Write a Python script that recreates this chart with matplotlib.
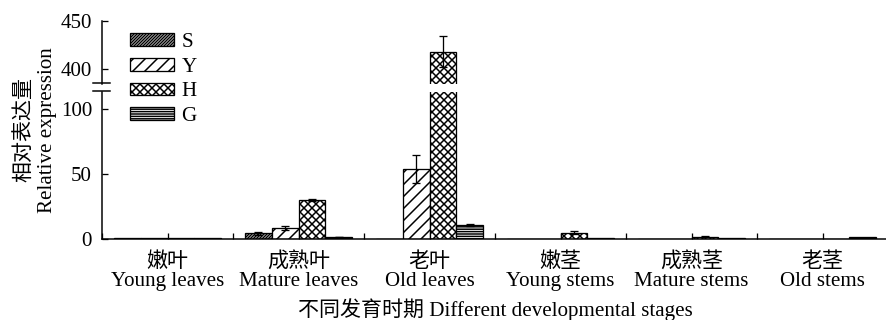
import matplotlib
matplotlib.use("Agg")
import matplotlib.pyplot as plt
import numpy as np
from matplotlib.lines import Line2D
from matplotlib.patches import Patch

plt.rcParams['font.family'] = ['Liberation Serif', 'Noto Sans CJK SC']
plt.rcParams['hatch.linewidth'] = 1.5
plt.rcParams['axes.linewidth'] = 1.5

stages_cn = ['嫩叶', '成熟叶', '老叶', '嫩茎', '成熟茎', '老茎']
stages_en = ['Young leaves', 'Mature leaves', 'Old leaves', 'Young stems', 'Mature stems', 'Old stems']
series = ['S', 'Y', 'H', 'G']

S = [0.8, 4.5, 0.0, 0.0, 0.0, 0.0]
Y = [0.8, 8.5, 53.5, 0.6, 0.4, 0.0]
H = [0.8, 30.0, 418.0, 5.0, 2.0, 0.0]
G = [0.8, 1.8, 11.0, 1.2, 1.3, 1.7]
S_err = [0, 1.0, 0, 0, 0, 0]
Y_err = [0, 1.5, 10.7, 0, 0, 0]
H_err = [0, 0.8, 16.0, 1.0, 0.3, 0]
G_err = [0, 0.3, 1.0, 0, 0, 0]

values = [S, Y, H, G]
errors = [S_err, Y_err, H_err, G_err]
hatches = ['////////', '//', 'xxx', '-----']

fs = 21
W, Hpx = 886, 320
fig = plt.figure(figsize=(W / 72, Hpx / 72), dpi=72)

left = 102 / W
width = (888 - 102) / W
ax_lo = fig.add_axes([left, (Hpx - 239.3) / Hpx, width, (239.3 - 91.7) / Hpx])
ax_hi = fig.add_axes([left, (Hpx - 84.3) / Hpx, width, (84.3 - 20.7) / Hpx])

x = np.arange(len(stages_cn))
bw = 0.205
for ax in (ax_lo, ax_hi):
    for i, (vals, errs, hatch) in enumerate(zip(values, errors, hatches)):
        pos = x + (i - 1.5) * bw
        ax.bar(pos, vals, bw, facecolor='white', edgecolor='black',
               linewidth=1.3, hatch=hatch, zorder=2)
        errs = np.array(errs)
        m = errs > 0
        ax.errorbar(pos[m], np.array(vals)[m], yerr=errs[m], fmt='none',
                    ecolor='black', elinewidth=1.3, capsize=4, capthick=1.3, zorder=3)
    ax.set_xlim(-0.5, 5.5)
    ax.spines['top'].set_visible(False)
    ax.spines['right'].set_visible(False)

ax_lo.set_ylim(0, 113)
ax_lo.set_yticks([0, 50, 100])
ax_hi.set_ylim(384.6, 450)
ax_hi.set_yticks([400, 450])
ax_hi.spines['bottom'].set_visible(False)
ax_hi.set_xticks([])

ax_lo.set_xticks(x)
ax_lo.set_xticklabels([c + '\n' + e for c, e in zip(stages_cn, stages_en)], linespacing=1.0)
ax_lo.set_xticks(np.arange(-0.5, 5.6, 1.0), minor=True)
ax_lo.tick_params(axis='x', which='both', direction='in', length=6, width=1.3, labelsize=fs, pad=13)
for ax in (ax_lo, ax_hi):
    ax.tick_params(axis='y', direction='in', length=6, width=1.3, labelsize=fs, pad=10)

# axis break marks
for yb in (83.3, 90.7):
    fig.add_artist(Line2D([93.3 / W, 110 / W], [(Hpx - yb) / Hpx] * 2,
                          color='black', linewidth=1.5))

handles = [Patch(facecolor='white', edgecolor='black', linewidth=1.3, hatch=h) for h in hatches]
fig.legend(handles, series, loc='upper left', bbox_to_anchor=(130 / W, 1 - 33 / Hpx),
           frameon=False, fontsize=fs, handlelength=2.1, handleheight=0.56,
           handletextpad=0.35, labelspacing=0.27, borderpad=0, borderaxespad=0)

fig.text(36 / W, 1 - 130 / Hpx, '相对表达量\nRelative expression', rotation=90,
         ha='center', va='center', fontsize=fs, multialignment='center', linespacing=1.2)
fig.text((102 + 888) / 2 / W, 1 - 310 / Hpx, '不同发育时期 Different developmental stages',
         ha='center', va='center', fontsize=fs)

fig.savefig('out.png', dpi=72)
